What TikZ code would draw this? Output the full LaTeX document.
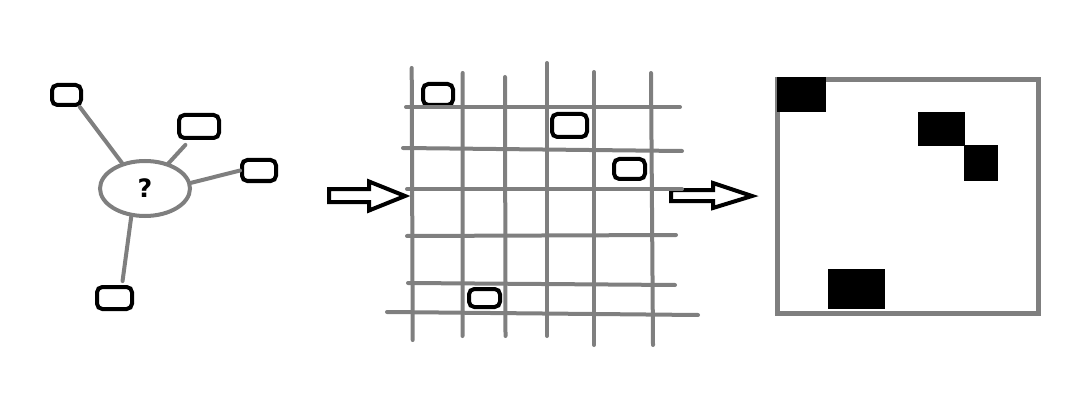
\documentclass[tikz,border=0pt]{standalone}
\usepackage{fontspec}
\setmainfont{DejaVu Sans}
\usetikzlibrary{shapes.geometric}
\definecolor{gridgray}{HTML}{7F7F7F}
\tikzset{
  cell/.style={draw=black, line width=3pt, rounded corners=4pt, inner sep=0pt},
  link/.style={draw=gridgray, line width=3pt, line cap=round},
  hollow/.style={draw=black, fill=white, line width=3pt, line join=miter},
  block/.style={fill=black}
}
\begin{document}
\begin{tikzpicture}[x=0.75pt, y=-0.75pt]
\useasboundingbox (0,0) rectangle (1088,417);
\node[ellipse, draw=gridgray, line width=3pt, minimum width=0.75*90pt, minimum height=0.75*55pt, inner sep=0pt, font=\fontsize{19}{19}\selectfont\bfseries] (q) at (145,188.5) {?};
\node[cell, minimum width=0.75*29pt, minimum height=0.75*20pt] (b1) at (66.5,95) {};
\node[cell, minimum width=0.75*40pt, minimum height=0.75*23pt] (b2) at (199,126.5) {};
\node[cell, minimum width=0.75*34pt, minimum height=0.75*21pt] (b3) at (259,170.5) {};
\node[cell, minimum width=0.75*35pt, minimum height=0.75*22pt] (b4) at (114.5,298) {};
\draw[link] (b1.-42) -- (q.132);
\draw[link, shorten <=5pt] (b2.236) -- (q.47);
\draw[link] (b3.west) -- (q.7);
\draw[link, shorten <=3pt] (b4.60) -- (q.244);
\draw[hollow] (329,189) -- (369,189) -- (369,181.5) -- (405,196) -- (369,210.5) -- (369,202) -- (329,202) -- cycle;
\draw[hollow] (671,190) -- (713,190) -- (713,183) -- (752,196) -- (713,208) -- (713,201) -- (671,201) -- cycle;
\node[cell, minimum width=0.75*30pt, minimum height=0.75*21pt] (g1) at (438,94.5) {};
\node[cell, minimum width=0.75*35pt, minimum height=0.75*23pt] (g2) at (569.5,125.5) {};
\node[cell, minimum width=0.75*31pt, minimum height=0.75*20pt] (g3) at (629.5,169) {};
\node[cell, minimum width=0.75*31pt, minimum height=0.75*18pt] (g4) at (484.5,298) {};
\draw[link] (411.7,68) -- (412.7,340);
\draw[link] (462.7,73) -- (462.5,336);
\draw[link] (505,77) -- (505.5,336);
\draw[link] (547,63) -- (547,336);
\draw[link] (594,72) -- (594,345);
\draw[link] (651,73) -- (653,345);
\draw[link] (406,107) -- (680,107);
\draw[link] (403,148) -- (682,151);
\draw[link] (407,189) -- (682,189);
\draw[link] (407,236) -- (676,235);
\draw[link] (408,283) -- (675,285);
\draw[link] (387,312) -- (698,315);
\draw[draw=gridgray, line width=3.75pt] (777.5,79.5) rectangle (1038.5,313.5);
\fill[block] (777,77) rectangle (826,112);
\fill[block] (918,112) rectangle (965,146);
\fill[block] (964,145) rectangle (998,181);
\fill[block] (828,269) rectangle (885,309);
\end{tikzpicture}
\end{document}
